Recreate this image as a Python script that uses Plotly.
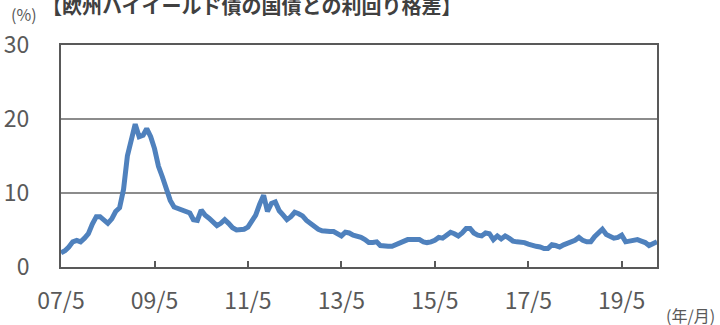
import plotly.graph_objects as go
import pandas as pd

# Monthly spread (%), May 2007 - Feb 2020
spread = [
    1.9, 2.2, 2.7, 3.4, 3.6, 3.4, 3.9, 4.5, 5.8, 6.8,
    6.8, 6.3, 5.9, 6.5, 7.5, 8.0, 10.5, 15.0, 17.6, 19.3,
    17.6, 17.8, 18.7, 17.6, 16.0, 13.6, 12.2, 10.4, 9.0, 8.1,
    7.9, 7.8, 7.5, 7.3, 6.4, 6.3, 7.7, 7.0, 6.6, 6.2,
    5.6, 5.9, 6.4, 5.9, 5.3, 5.0, 5.1, 5.1, 5.4, 6.1,
    7.0, 8.5, 9.7, 7.5, 8.6, 8.8, 7.6, 7.0, 6.4, 6.8,
    7.4, 7.2, 6.9, 6.3, 5.9, 5.4, 5.1, 4.9, 4.8, 4.8,
    4.8, 4.4, 4.2, 4.7, 4.6, 4.3, 4.2, 4.0, 3.7, 3.3,
    3.3, 3.4, 2.9, 2.8, 2.8, 2.8, 3.0, 3.3, 3.5, 3.7,
    3.7, 3.7, 3.7, 3.4, 3.3, 3.4, 3.6, 4.0, 3.9, 4.3,
    4.7, 4.5, 4.2, 4.6, 5.2, 5.2, 4.6, 4.3, 4.2, 4.6,
    4.5, 3.7, 4.2, 3.8, 4.2, 3.9, 3.5, 3.4, 3.4, 3.3,
    3.1, 2.9, 2.8, 2.7, 2.5, 2.5, 3.0, 2.9, 2.7, 3.0,
    3.2, 3.3, 3.6, 4.0, 3.6, 3.4, 3.4, 4.1, 4.6, 5.1,
    4.4, 4.1, 3.9, 4.0, 4.3, 3.4, 3.5, 3.7, 3.7, 3.5,
    3.3, 2.9, 3.2, 3.4,
]
dates = pd.date_range("2007-05-01", periods=len(spread), freq="MS")

tick_dates = ["2007-05-01", "2009-05-01", "2011-05-01", "2013-05-01",
              "2015-05-01", "2017-05-01", "2019-05-01"]
tick_labels = ["07/5", "09/5", "11/5", "13/5", "15/5", "17/5", "19/5"]
y_ticks = [0, 10, 20, 30]

title_text = "【欧州ハイイールド債の国債との利回り格差】"
FONT = "Noto Sans CJK JP"
GRAY = "#595959"

W, H = 720, 325
L, R, T, B = 61, 63, 45, 58
PW, PH = W - L - R, H - T - B


def px_to_paper(px, py):
    return (px - L) / PW, (H - B - py) / PH


fig = go.Figure()
fig.add_trace(go.Scatter(
    x=dates, y=spread, mode="lines",
    line=dict(color="#4F81BD", width=5),
    hoverinfo="skip", showlegend=False,
))

annots = []
for text, px, py, size, color, bold, anchor in [
    (title_text, 40, 5, 20, "#404040", True, "left"),
    ("(%)", 9, 14, 16, GRAY, False, "left"),
    ("(年/月)", 717, 315, 16, GRAY, False, "right"),
]:
    ax, ay = px_to_paper(px, py)
    annots.append(dict(
        text=text, x=ax, y=ay, xref="paper", yref="paper",
        showarrow=False, xanchor=anchor, yanchor="middle",
        font=dict(size=size, family=FONT, color=color,
                  weight="bold" if bold else "normal"),
    ))

fig.update_layout(
    width=W, height=H,
    margin=dict(l=L, r=R, t=T, b=B),
    paper_bgcolor="white", plot_bgcolor="white",
    font=dict(family=FONT, color=GRAY),
    showlegend=False,
    xaxis=dict(
        range=[dates[0], dates[-1]],
        tickvals=tick_dates, ticktext=tick_labels,
        ticks="inside", ticklen=6, tickwidth=2, tickcolor=GRAY,
        showline=True, linecolor=GRAY, linewidth=2, mirror=True,
        showgrid=False, zeroline=False, automargin=False,
        tickfont=dict(size=23, family=FONT, color=GRAY),
        ticklabelstandoff=12,
    ),
    yaxis=dict(
        range=[0, 30], tickvals=y_ticks,
        ticks="", showline=True, linecolor=GRAY, linewidth=2, mirror=True,
        showgrid=True, gridcolor="#8c8c8c", gridwidth=1.5, zeroline=False,
        automargin=False,
        tickfont=dict(size=23, family=FONT, color=GRAY),
        ticklabelstandoff=25,
    ),
    annotations=annots,
)

fig.write_html("out.html")
